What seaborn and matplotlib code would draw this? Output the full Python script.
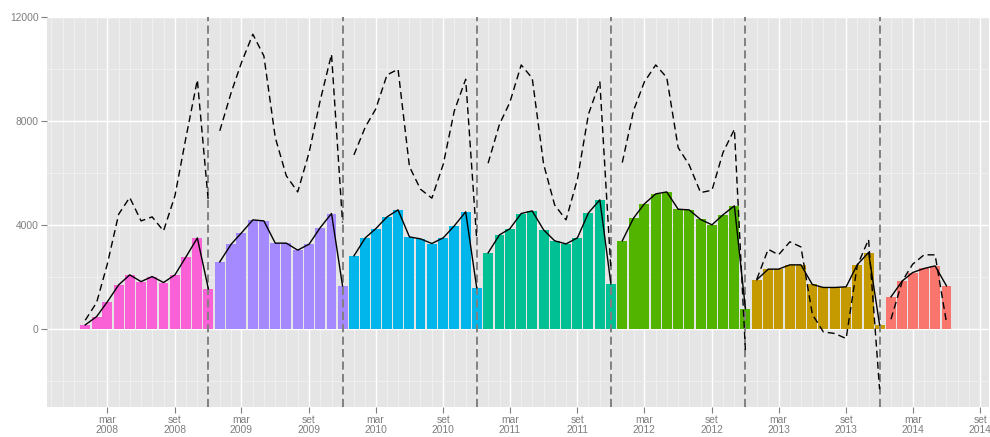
import matplotlib
matplotlib.use("Agg")
import matplotlib.pyplot as plt
import matplotlib.dates as mdates
import matplotlib.ticker as mticker
import seaborn as sns
import pandas as pd
import datetime as dt

# ---- data ----
years = [2008, 2009, 2010, 2011, 2012, 2013, 2014]

bars_2008 = [165, 485, 1050, 1705, 2090, 1830, 2025, 1795, 2090, 2780, 3510, 1550]
bars_2009 = [2590, 3270, 3705, 4205, 4165, 3310, 3310, 3040, 3270, 3900, 4450, 1665]
bars_2010 = [2820, 3515, 3860, 4320, 4590, 3550, 3475, 3295, 3515, 3975, 4515, 1590]
bars_2011 = [2935, 3630, 3860, 4450, 4550, 3820, 3400, 3280, 3515, 4475, 4975, 1745]
bars_2012 = [3400, 4280, 4820, 5205, 5280, 4615, 4590, 4220, 4015, 4400, 4745, 785]
bars_2013 = [1900, 2310, 2310, 2475, 2475, 1720, 1605, 1605, 1630, 2475, 2950, 165]
bars_2014 = [1245, 1860, 2180, 2335, 2435, 1665]

dash_2008 = [345, 1025, 2500, 4425, 5065, 4165, 4320, 3780, 5130, 7370, 9590, 4900]
dash_2009 = [7630, 9100, 10255, 11345, 10510, 7370, 5900, 5280, 6795, 8780, 10575, 4100]
dash_2010 = [6705, 7780, 8460, 9780, 10000, 6255, 5385, 5040, 6345, 8395, 9615, 3450]
dash_2011 = [6385, 7885, 8720, 10165, 9655, 6345, 4780, 4205, 5770, 8270, 9510, 2300]
dash_2012 = [6410, 8425, 9510, 10165, 9680, 6985, 6320, 5255, 5345, 6795, 7690, -830]
dash_2013 = [1925, 3075, 2860, 3360, 3165, 575, -105, -165, -360, 2435, 3450, -2310]
dash_2014 = [385, 1860, 2500, 2860, 2860, 255]

year_colors = ["#FB61D7", "#A58AFF", "#00B6EB", "#00C094", "#53B400", "#C49A00", "#F8766D"]
month_names = ["gen", "feb", "mar", "apr", "mag", "giu", "lug", "ago", "set", "ott", "nov", "dic"]
y_ticks = [0, 4000, 8000, 12000]
y_minor = [-2000, 2000, 6000, 10000]
break_years = [2008, 2009, 2010, 2011, 2012, 2013]  # dashed separator at 1 Dec

bars_all = [bars_2008, bars_2009, bars_2010, bars_2011, bars_2012, bars_2013, bars_2014]
dash_all = [dash_2008, dash_2009, dash_2010, dash_2011, dash_2012, dash_2013, dash_2014]

rows = []
for y, bv, dv in zip(years, bars_all, dash_all):
    for m, (b, d) in enumerate(zip(bv, dv), start=1):
        rows.append({"year": y,
                     "x": mdates.date2num(dt.date(y, m, 1)),
                     "bar": b, "dash": d})
df = pd.DataFrame(rows)

# ---- figure ----
fig = plt.figure(figsize=(9.9, 4.37), dpi=100)
ax = fig.add_axes([47 / 990, 30 / 437, (989.5 - 47) / 990, (407 - 16.5) / 437])
ax.set_facecolor("#E5E5E5")
for s in ax.spines.values():
    s.set_visible(False)

palette = dict(zip(years, year_colors))
sns.barplot(data=df, x="x", y="bar", hue="year", palette=palette,
            native_scale=True, dodge=False, width=27.0 / 28.0,
            errorbar=None, legend=False, linewidth=0, saturation=1,
            ax=ax, zorder=2)

for yb in break_years:
    ax.axvline(mdates.date2num(dt.date(yb, 12, 1)), color="#808080",
               lw=1.4, linestyle=(0, (4.2, 2.2)), zorder=3)

sns.lineplot(data=df, x="x", y="bar", units="year", estimator=None,
             color="black", linewidth=1.0, ax=ax, legend=False, zorder=4)
sns.lineplot(data=df, x="x", y="dash", units="year", estimator=None,
             color="black", linewidth=1.0, linestyle=(0, (5, 3)),
             ax=ax, legend=False, zorder=4)

# ---- axes ----
major_dates = []
major_labels = []
for y in range(2008, 2015):
    for m in (3, 9):
        major_dates.append(mdates.date2num(dt.date(y, m, 1)))
        major_labels.append(f"{month_names[m - 1]}\n{y}")
minor_dates = []
for y in range(2007, 2015):
    for m in range(1, 13):
        if m in (3, 9):
            continue
        minor_dates.append(mdates.date2num(dt.date(y, m, 1)))

ax.xaxis.set_major_locator(mticker.FixedLocator(major_dates))
ax.xaxis.set_major_formatter(mticker.FixedFormatter(major_labels))
ax.xaxis.set_minor_locator(mticker.FixedLocator(minor_dates))
ax.yaxis.set_major_locator(mticker.FixedLocator(y_ticks))
ax.yaxis.set_major_formatter(mticker.FixedFormatter([str(v) for v in y_ticks]))
ax.yaxis.set_minor_locator(mticker.FixedLocator(y_minor))

ax.grid(which="major", color="white", linewidth=1.0, zorder=0)
ax.grid(which="minor", color="#F2F2F2", linewidth=0.6, zorder=0)
ax.set_axisbelow(True)

ax.tick_params(which="major", length=4, width=0.8, color="#7F7F7F",
               labelcolor="#7F7F7F", labelsize=7.4, pad=2)
ax.tick_params(which="minor", length=0)
for lab in ax.get_xticklabels():
    lab.set_family(["Liberation Sans", "DejaVu Sans"])
    lab.set_linespacing(0.95)
for lab in ax.get_yticklabels():
    lab.set_family(["Liberation Sans", "DejaVu Sans"])

ax.set_xlabel("")
ax.set_ylabel("")
ax.set_xlim(mdates.date2num(dt.date(2007, 9, 19)), mdates.date2num(dt.date(2014, 9, 26)))
ax.set_ylim(-2993, 12028)

fig.savefig("out.png", dpi=100)
